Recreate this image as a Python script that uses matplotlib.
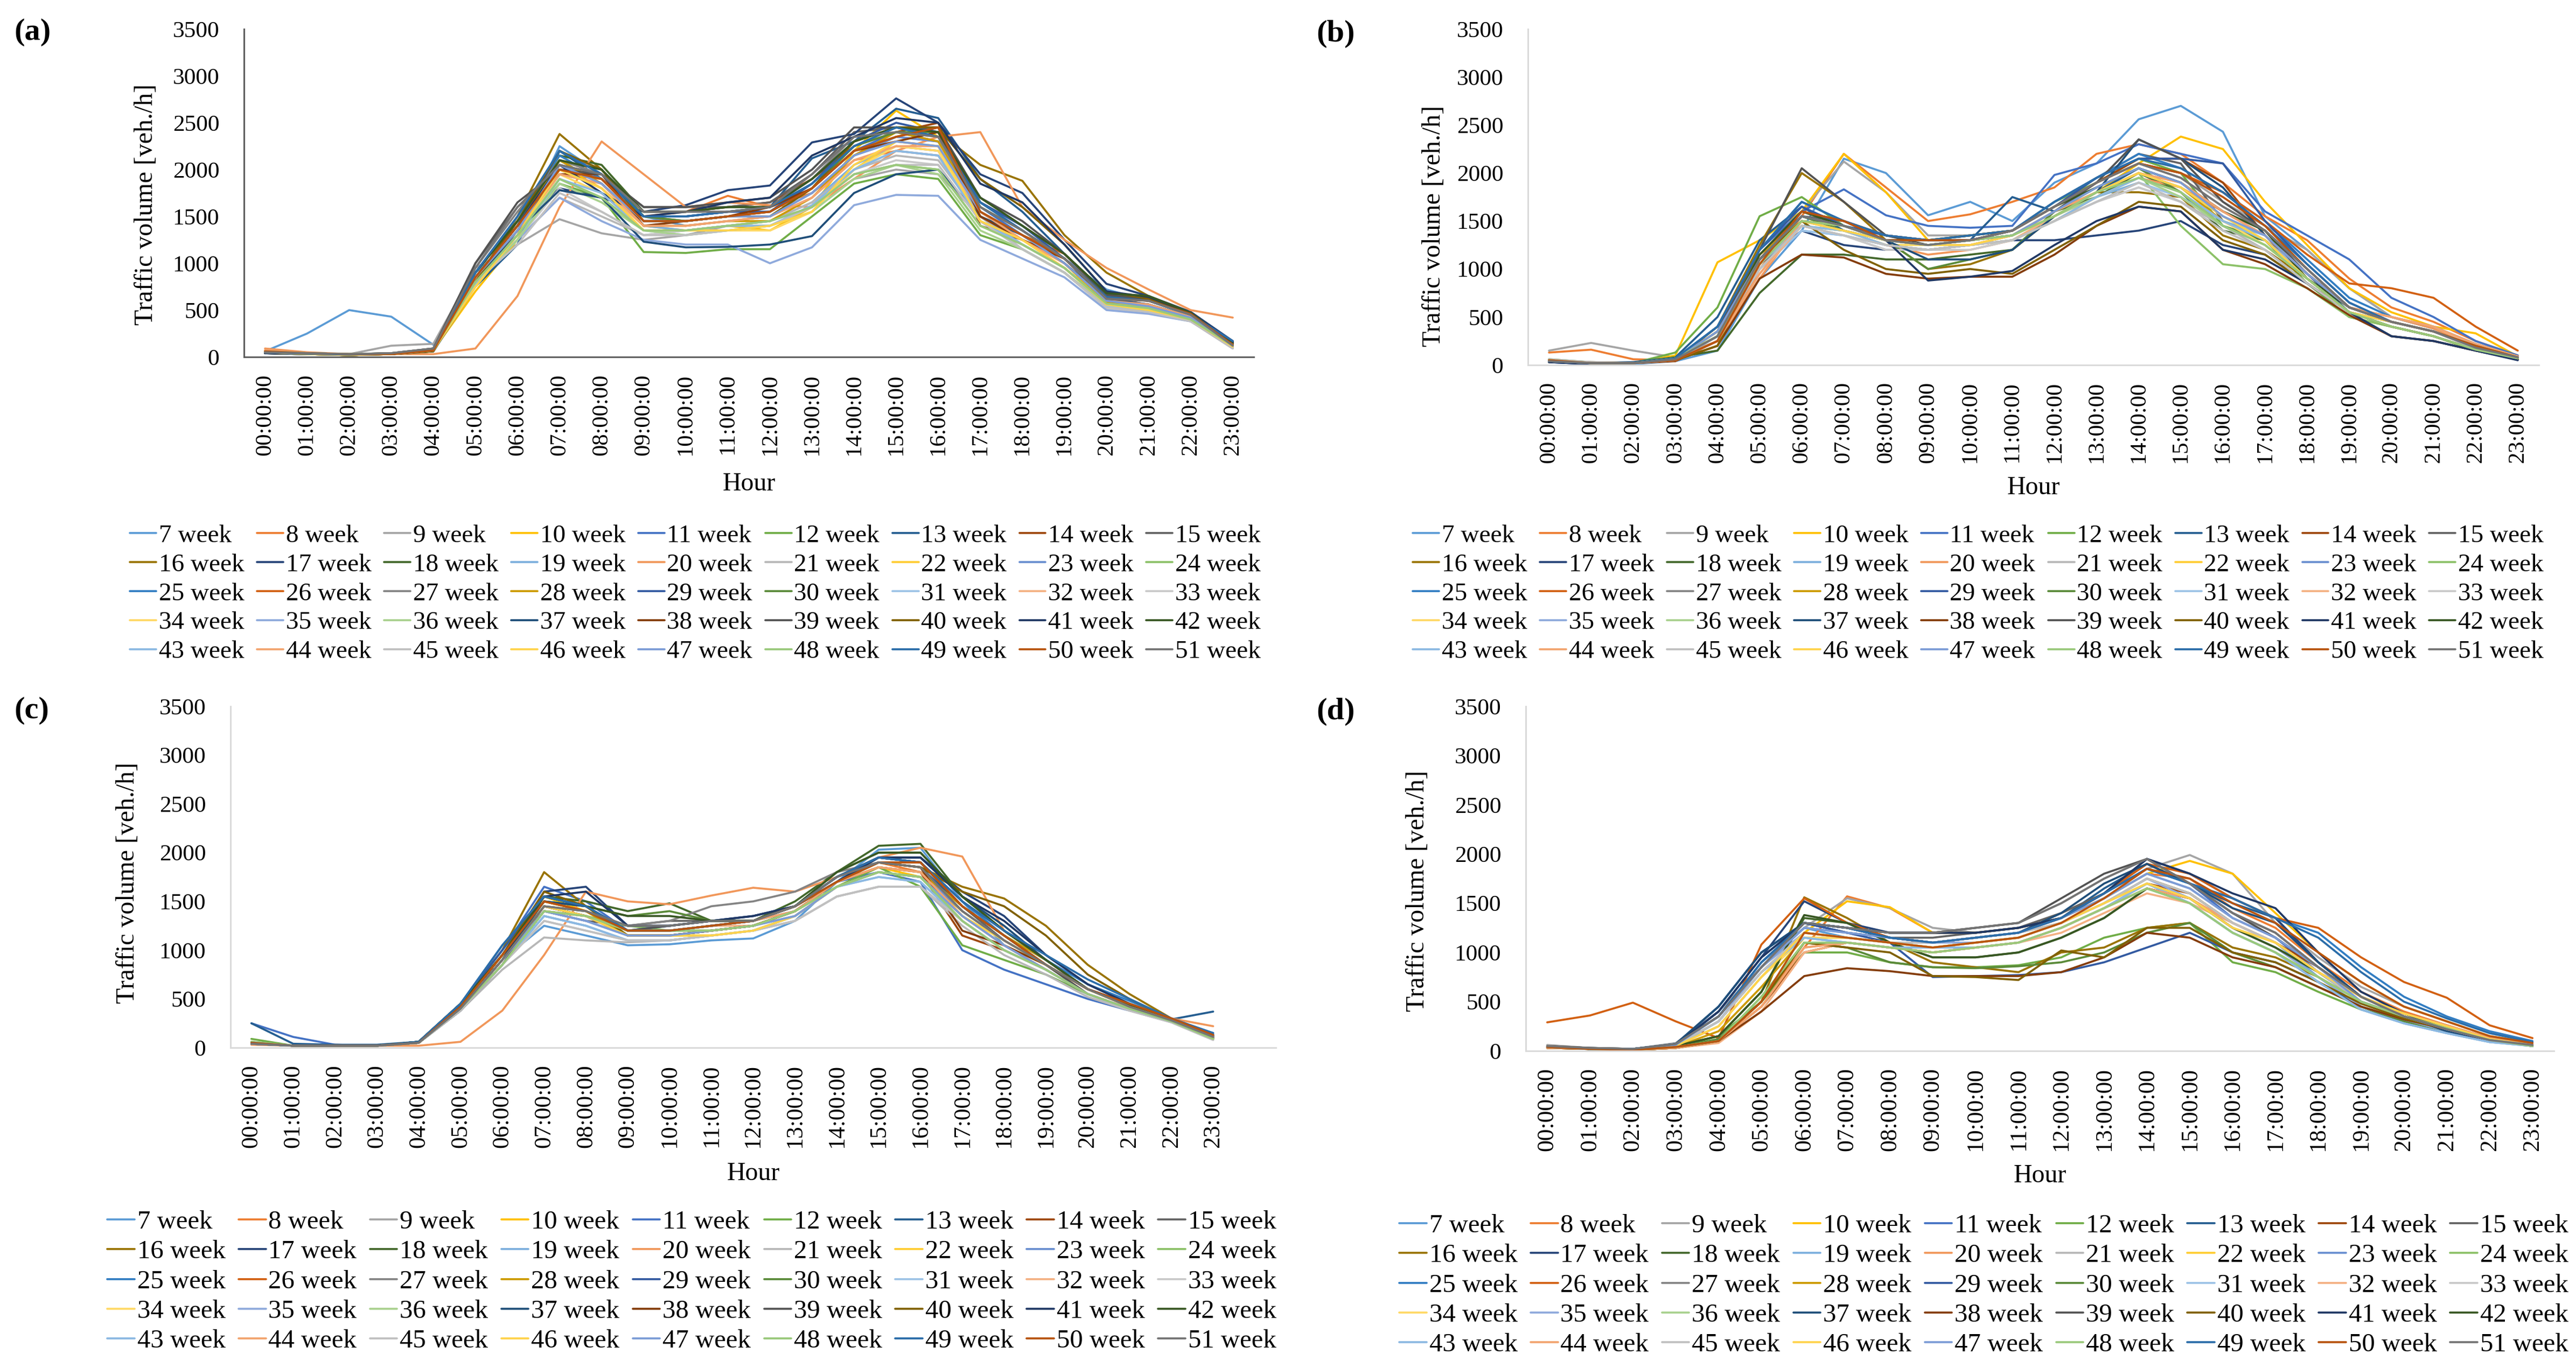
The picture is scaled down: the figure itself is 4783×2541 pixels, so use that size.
import colorsys
import matplotlib
matplotlib.use("Agg")
import matplotlib.pyplot as plt
from matplotlib.colors import to_rgb

plt.rcParams['font.family'] = ['Liberation Serif', 'DejaVu Serif']

W, H = 4783, 2541

hours = ["00:00:00", "01:00:00", "02:00:00", "03:00:00", "04:00:00", "05:00:00",
         "06:00:00", "07:00:00", "08:00:00", "09:00:00", "10:00:00", "11:00:00",
         "12:00:00", "13:00:00", "14:00:00", "15:00:00", "16:00:00", "17:00:00",
         "18:00:00", "19:00:00", "20:00:00", "21:00:00", "22:00:00", "23:00:00"]
week_numbers = list(range(7, 52))
week_labels = [f"{w} week" for w in week_numbers]

# hourly volumes [veh./h], one row per week (7..51)
vol_a = [
    [60, 250, 500, 430, 130, 900, 1300, 2250, 1950, 1500, 1400, 1450, 1500, 1750, 2150, 2350, 2300, 1650, 1350, 1050, 720, 600, 440, 150],
    [70, 40, 20, 30, 70, 800, 1350, 1950, 1900, 1500, 1550, 1720, 1600, 1750, 2100, 2200, 2150, 1550, 1250, 1000, 620, 560, 430, 130],
    [40, 30, 30, 120, 140, 950, 1200, 1470, 1320, 1250, 1300, 1400, 1450, 1600, 1900, 2000, 1950, 1500, 1200, 950, 580, 520, 400, 100],
    [50, 30, 20, 30, 70, 700, 1250, 2050, 1800, 1400, 1350, 1400, 1350, 1600, 2200, 2630, 2350, 1500, 1250, 1000, 560, 550, 420, 120],
    [50, 35, 25, 35, 80, 850, 1400, 2100, 1850, 1450, 1450, 1500, 1550, 1800, 2200, 2400, 2300, 1600, 1300, 1000, 620, 560, 430, 140],
    [60, 40, 30, 40, 80, 800, 1300, 1850, 1700, 1120, 1110, 1150, 1150, 1500, 1850, 1950, 1900, 1300, 1150, 900, 520, 480, 400, 120],
    [40, 30, 20, 30, 60, 750, 1200, 2200, 1900, 1500, 1500, 1550, 1600, 2120, 2300, 2650, 2550, 1900, 1550, 1100, 650, 600, 450, 160],
    [60, 40, 30, 30, 70, 900, 1450, 2050, 1950, 1550, 1550, 1600, 1650, 1900, 2250, 2400, 2500, 1400, 1250, 1050, 640, 600, 460, 130],
    [50, 40, 30, 40, 90, 1000, 1600, 2000, 1950, 1600, 1600, 1600, 1650, 1950, 2400, 2450, 2450, 1650, 1400, 1100, 680, 620, 450, 150],
    [40, 30, 20, 30, 60, 800, 1500, 2380, 2000, 1500, 1450, 1500, 1550, 1800, 2300, 2450, 2400, 2050, 1880, 1300, 900, 650, 480, 160],
    [40, 30, 20, 30, 70, 850, 1400, 1800, 1700, 1550, 1620, 1780, 1830, 2290, 2380, 2760, 2500, 1950, 1750, 1250, 780, 650, 480, 170],
    [50, 35, 25, 35, 80, 900, 1450, 2150, 2050, 1550, 1550, 1600, 1600, 1900, 2300, 2450, 2400, 1700, 1400, 1100, 680, 650, 470, 140],
    [60, 40, 25, 30, 70, 800, 1300, 1950, 1850, 1400, 1350, 1400, 1450, 1650, 2050, 2250, 2200, 1500, 1200, 950, 560, 520, 400, 120],
    [90, 50, 30, 30, 30, 90, 650, 1600, 2300, 1950, 1600, 1650, 1620, 1600, 1900, 2200, 2350, 2400, 1600, 1250, 950, 720, 500, 420],
    [50, 35, 25, 40, 80, 850, 1250, 1700, 1500, 1300, 1350, 1400, 1450, 1650, 2000, 2150, 2100, 1500, 1150, 900, 520, 480, 380, 90],
    [50, 30, 20, 30, 70, 750, 1300, 2000, 1800, 1350, 1350, 1350, 1350, 1550, 2000, 2300, 2250, 1450, 1250, 950, 560, 500, 400, 110],
    [50, 40, 30, 35, 80, 850, 1350, 2050, 1900, 1450, 1450, 1500, 1500, 1750, 2150, 2350, 2300, 1600, 1350, 1050, 600, 560, 430, 140],
    [60, 40, 30, 35, 80, 800, 1300, 1900, 1700, 1350, 1350, 1400, 1400, 1600, 1950, 2050, 2000, 1400, 1200, 950, 570, 520, 410, 120],
    [50, 35, 25, 35, 80, 900, 1500, 2150, 1900, 1500, 1500, 1550, 1550, 1850, 2250, 2450, 2350, 1650, 1350, 1050, 640, 600, 450, 150],
    [60, 40, 30, 30, 70, 850, 1400, 2000, 1900, 1450, 1450, 1500, 1550, 1800, 2200, 2350, 2450, 1550, 1300, 1100, 650, 620, 470, 140],
    [50, 40, 30, 40, 90, 950, 1550, 2100, 1950, 1550, 1550, 1550, 1600, 1900, 2350, 2400, 2350, 1600, 1350, 1050, 620, 600, 450, 130],
    [50, 30, 20, 30, 70, 800, 1350, 2100, 1850, 1400, 1400, 1450, 1450, 1700, 2150, 2400, 2300, 1550, 1300, 1000, 590, 560, 430, 130],
    [50, 35, 25, 35, 80, 850, 1400, 2200, 1950, 1500, 1500, 1550, 1550, 1850, 2300, 2500, 2400, 1650, 1400, 1050, 640, 600, 450, 150],
    [60, 40, 30, 35, 80, 900, 1450, 2100, 2000, 1500, 1450, 1500, 1500, 1800, 2250, 2400, 2400, 1600, 1350, 1050, 640, 650, 460, 140],
    [50, 35, 25, 35, 70, 800, 1250, 1900, 1700, 1350, 1300, 1350, 1400, 1600, 2000, 2200, 2150, 1450, 1150, 900, 540, 500, 400, 110],
    [60, 40, 30, 35, 80, 850, 1350, 2000, 1800, 1400, 1400, 1450, 1500, 1700, 2100, 2250, 2200, 1550, 1250, 1000, 600, 560, 430, 130],
    [50, 35, 25, 40, 80, 800, 1250, 1800, 1550, 1300, 1350, 1400, 1400, 1600, 1950, 2100, 2050, 1450, 1150, 900, 510, 470, 380, 100],
    [50, 30, 20, 30, 70, 750, 1300, 1950, 1750, 1350, 1350, 1350, 1350, 1550, 2000, 2250, 2200, 1450, 1200, 950, 560, 500, 400, 110],
    [60, 40, 30, 35, 80, 800, 1250, 1700, 1450, 1250, 1200, 1200, 1000, 1170, 1620, 1730, 1720, 1250, 1050, 850, 500, 460, 380, 110],
    [60, 40, 30, 35, 80, 800, 1250, 1850, 1650, 1350, 1300, 1350, 1400, 1550, 1900, 2050, 1950, 1350, 1150, 900, 560, 500, 400, 120],
    [40, 30, 20, 30, 60, 800, 1350, 1780, 1700, 1230, 1170, 1175, 1200, 1290, 1750, 1950, 2000, 1500, 1300, 1000, 620, 560, 430, 150],
    [60, 40, 30, 30, 70, 850, 1400, 1950, 1950, 1400, 1450, 1500, 1600, 1800, 2200, 2300, 2400, 1500, 1250, 1050, 620, 600, 460, 130],
    [50, 40, 30, 40, 90, 1000, 1650, 2000, 1950, 1600, 1600, 1650, 1700, 2000, 2450, 2450, 2450, 1700, 1450, 1100, 660, 620, 460, 140],
    [40, 30, 20, 30, 60, 800, 1450, 2200, 2000, 1450, 1450, 1500, 1500, 1800, 2300, 2450, 2450, 1900, 1600, 1200, 700, 620, 470, 150],
    [40, 30, 20, 30, 70, 850, 1400, 2050, 1750, 1500, 1550, 1650, 1700, 2150, 2350, 2550, 2500, 1850, 1650, 1200, 700, 640, 470, 160],
    [50, 35, 25, 35, 80, 900, 1450, 2100, 2000, 1550, 1550, 1600, 1600, 1900, 2300, 2450, 2400, 1700, 1400, 1100, 680, 650, 470, 140],
    [60, 40, 25, 30, 70, 780, 1300, 1900, 1750, 1350, 1350, 1400, 1400, 1620, 2000, 2200, 2150, 1450, 1200, 950, 560, 500, 400, 120],
    [70, 40, 30, 35, 80, 850, 1350, 1950, 1850, 1400, 1400, 1450, 1500, 1700, 2100, 2250, 2250, 1550, 1250, 1000, 600, 560, 430, 130],
    [50, 35, 25, 40, 80, 800, 1200, 1750, 1550, 1300, 1300, 1350, 1400, 1600, 1950, 2050, 2050, 1450, 1150, 900, 530, 480, 380, 90],
    [50, 30, 20, 30, 70, 750, 1300, 2000, 1800, 1350, 1350, 1350, 1400, 1550, 2050, 2300, 2250, 1450, 1250, 950, 560, 500, 400, 110],
    [50, 40, 30, 35, 80, 850, 1350, 2050, 1850, 1450, 1450, 1500, 1500, 1750, 2150, 2300, 2250, 1550, 1300, 1000, 600, 540, 420, 130],
    [60, 40, 30, 35, 80, 800, 1300, 1900, 1700, 1350, 1350, 1400, 1450, 1600, 1950, 2050, 2000, 1400, 1200, 950, 570, 520, 400, 120],
    [50, 35, 25, 35, 80, 900, 1500, 2200, 1950, 1500, 1500, 1550, 1600, 1850, 2250, 2450, 2350, 1650, 1350, 1050, 640, 600, 450, 170],
    [60, 40, 30, 30, 70, 850, 1400, 2000, 1900, 1450, 1450, 1500, 1550, 1800, 2200, 2350, 2450, 1550, 1300, 1050, 620, 600, 460, 130],
    [50, 40, 30, 40, 90, 950, 1600, 2050, 1950, 1550, 1550, 1550, 1600, 1950, 2350, 2400, 2350, 1600, 1350, 1050, 620, 600, 450, 120],
]

vol_b = [
    [30, 20, 10, 40, 150, 900, 1400, 2150, 2000, 1560, 1700, 1500, 1900, 2100, 2560, 2700, 2430, 1550, 1200, 800, 500, 380, 200, 80],
    [130, 160, 60, 50, 200, 1000, 1550, 2200, 1850, 1500, 1570, 1700, 1850, 2200, 2300, 2200, 1900, 1550, 1300, 900, 600, 450, 250, 100],
    [150, 230, 150, 80, 250, 1050, 1600, 2120, 1800, 1350, 1350, 1400, 1650, 1900, 2100, 2000, 1700, 1450, 1200, 800, 500, 380, 200, 70],
    [40, 20, 20, 100, 1070, 1300, 1600, 2200, 1800, 1300, 1300, 1350, 1600, 1800, 2100, 2380, 2250, 1700, 1250, 800, 550, 400, 330, 90],
    [30, 10, 20, 60, 350, 1200, 1600, 1830, 1560, 1450, 1430, 1450, 1980, 2100, 2300, 2200, 2100, 1600, 1350, 1100, 700, 500, 250, 100],
    [60, 30, 20, 130, 600, 1550, 1750, 1450, 1350, 1300, 1350, 1400, 1700, 1900, 2150, 2000, 1450, 1300, 850, 500, 400, 300, 150, 70],
    [40, 20, 30, 80, 500, 1300, 1650, 1400, 1300, 1250, 1300, 1750, 1600, 1800, 2050, 1900, 1600, 1400, 1000, 600, 450, 350, 200, 80],
    [50, 20, 20, 40, 250, 1100, 1600, 1500, 1350, 1300, 1300, 1400, 1650, 1900, 2150, 2150, 1900, 1350, 900, 550, 450, 350, 180, 90],
    [40, 20, 20, 60, 300, 1150, 1550, 1500, 1300, 1300, 1300, 1400, 1700, 1950, 2200, 2100, 1500, 1300, 900, 550, 450, 350, 180, 80],
    [30, 20, 20, 50, 400, 1250, 2000, 1700, 1300, 1000, 1050, 1200, 1550, 1800, 1800, 1750, 1350, 1200, 900, 550, 450, 350, 170, 70],
    [30, 10, 20, 50, 250, 1050, 1400, 1250, 1200, 1200, 1250, 1300, 1300, 1350, 1400, 1500, 1250, 1150, 850, 550, 400, 300, 160, 60],
    [50, 20, 20, 80, 150, 750, 1150, 1150, 1100, 1100, 1150, 1200, 1600, 1750, 2000, 1800, 1400, 1300, 900, 600, 450, 350, 180, 80],
    [40, 20, 20, 60, 300, 1000, 1400, 1350, 1250, 1200, 1250, 1300, 1550, 1750, 1900, 1750, 1500, 1350, 950, 600, 450, 350, 200, 80],
    [50, 30, 20, 60, 250, 900, 1500, 1400, 1250, 1150, 1200, 1300, 1500, 1750, 1950, 1850, 1600, 1350, 950, 600, 500, 380, 200, 90],
    [60, 30, 20, 50, 300, 1000, 1450, 1350, 1200, 1200, 1250, 1300, 1500, 1700, 1850, 1700, 1450, 1200, 850, 550, 450, 350, 170, 70],
    [40, 20, 20, 60, 350, 1000, 1450, 1400, 1250, 1250, 1250, 1300, 1550, 1800, 2000, 1850, 1550, 1300, 900, 550, 450, 350, 200, 80],
    [40, 20, 20, 60, 350, 1100, 1550, 1450, 1300, 1250, 1300, 1350, 1600, 1850, 2050, 1900, 1600, 1350, 950, 600, 450, 350, 180, 80],
    [50, 20, 20, 70, 300, 1050, 1500, 1450, 1300, 1250, 1300, 1350, 1600, 1800, 2000, 1450, 1050, 1000, 800, 500, 400, 300, 160, 70],
    [40, 20, 20, 70, 400, 1200, 1700, 1500, 1350, 1300, 1300, 1400, 1700, 1950, 2200, 2050, 1800, 1500, 1100, 700, 500, 400, 220, 90],
    [40, 20, 20, 50, 250, 1100, 1600, 1500, 1350, 1300, 1350, 1400, 1650, 1900, 2100, 2000, 1800, 1500, 1150, 850, 800, 700, 400, 150],
    [40, 20, 20, 60, 300, 1100, 1550, 1450, 1300, 1250, 1300, 1400, 1650, 1900, 2100, 1950, 1650, 1400, 1000, 600, 450, 350, 180, 80],
    [40, 20, 20, 60, 350, 1150, 1500, 1450, 1300, 1250, 1250, 1350, 1550, 1800, 2000, 1850, 1500, 1300, 950, 600, 450, 350, 190, 80],
    [40, 20, 20, 60, 400, 1200, 1650, 1450, 1350, 1300, 1300, 1400, 1650, 1950, 2150, 2150, 2100, 1500, 1050, 650, 450, 350, 200, 80],
    [50, 20, 20, 70, 300, 1100, 1550, 1400, 1300, 1000, 1100, 1200, 1600, 1850, 2050, 1800, 1450, 1300, 950, 600, 450, 350, 180, 70],
    [40, 20, 20, 60, 300, 1000, 1400, 1350, 1250, 1200, 1250, 1300, 1500, 1700, 1900, 1750, 1450, 1250, 900, 550, 450, 350, 180, 70],
    [50, 20, 20, 50, 250, 950, 1450, 1400, 1250, 1200, 1250, 1300, 1550, 1800, 2000, 1900, 1600, 1350, 950, 600, 500, 400, 200, 90],
    [50, 30, 20, 50, 300, 1000, 1450, 1350, 1200, 1200, 1200, 1300, 1500, 1700, 1850, 1700, 1400, 1200, 850, 550, 450, 350, 170, 70],
    [40, 20, 20, 60, 350, 1050, 1450, 1400, 1250, 1250, 1250, 1300, 1500, 1750, 1950, 1800, 1500, 1250, 900, 550, 450, 350, 200, 80],
    [40, 20, 20, 60, 350, 1100, 1500, 1400, 1300, 1250, 1300, 1350, 1550, 1800, 2000, 1850, 1550, 1300, 950, 600, 450, 350, 180, 80],
    [50, 20, 20, 70, 300, 1050, 1450, 1400, 1300, 1250, 1300, 1350, 1550, 1750, 1950, 1750, 1450, 1250, 900, 550, 400, 300, 160, 70],
    [40, 20, 20, 60, 300, 1100, 1550, 1450, 1300, 1100, 1100, 1200, 1550, 1800, 2350, 2150, 1850, 1350, 950, 550, 300, 250, 150, 60],
    [50, 20, 20, 50, 200, 900, 1150, 1120, 950, 900, 920, 920, 1150, 1450, 1650, 1600, 1200, 1050, 800, 520, 300, 250, 150, 60],
    [40, 20, 20, 60, 350, 1200, 2050, 1700, 1350, 1250, 1300, 1350, 1600, 1900, 2350, 2150, 1700, 1400, 950, 600, 450, 350, 180, 70],
    [40, 20, 20, 50, 200, 1100, 1500, 1200, 1000, 950, 1000, 950, 1200, 1450, 1700, 1650, 1300, 1150, 850, 550, 400, 300, 160, 60],
    [30, 10, 20, 50, 300, 1100, 1550, 1450, 1300, 880, 920, 980, 1250, 1500, 1650, 1600, 1200, 1100, 850, 550, 300, 250, 150, 50],
    [50, 20, 20, 60, 300, 1150, 1600, 1450, 1300, 1300, 1350, 1400, 1650, 1850, 2050, 1900, 1600, 1400, 900, 600, 450, 350, 180, 70],
    [40, 20, 20, 60, 300, 1050, 1450, 1400, 1250, 1200, 1250, 1300, 1500, 1750, 1950, 1800, 1500, 1300, 900, 550, 450, 350, 200, 80],
    [50, 20, 20, 50, 250, 950, 1500, 1450, 1300, 1250, 1250, 1350, 1600, 1800, 2000, 1900, 1600, 1350, 950, 600, 500, 400, 220, 90],
    [50, 30, 20, 50, 300, 1000, 1450, 1350, 1250, 1200, 1250, 1300, 1500, 1700, 1900, 1700, 1400, 1200, 850, 550, 450, 350, 170, 70],
    [40, 20, 20, 60, 350, 1050, 1500, 1400, 1300, 1250, 1250, 1350, 1550, 1800, 2000, 1850, 1550, 1300, 900, 550, 450, 350, 200, 80],
    [40, 20, 20, 60, 350, 1100, 1550, 1450, 1300, 1250, 1300, 1350, 1600, 1850, 2050, 1900, 1550, 1350, 950, 600, 450, 350, 180, 80],
    [50, 20, 20, 70, 300, 1050, 1500, 1450, 1300, 1250, 1300, 1350, 1550, 1800, 1950, 1800, 1450, 1250, 900, 550, 400, 300, 160, 70],
    [40, 20, 20, 70, 400, 1200, 1700, 1500, 1350, 1300, 1350, 1400, 1700, 1950, 2150, 2050, 1800, 1450, 1050, 650, 450, 350, 200, 80],
    [50, 20, 20, 50, 250, 1050, 1600, 1500, 1300, 1300, 1300, 1400, 1650, 1900, 2100, 2000, 1750, 1450, 1000, 600, 450, 350, 200, 80],
    [40, 20, 20, 60, 300, 1100, 1550, 1450, 1300, 1250, 1300, 1400, 1650, 1900, 2100, 1950, 1650, 1400, 1000, 600, 450, 350, 180, 80],
]

vol_c = [
    [50, 20, 20, 20, 50, 400, 900, 1250, 1150, 1050, 1060, 1100, 1120, 1300, 1700, 2030, 2050, 1500, 1050, 800, 550, 400, 280, 100],
    [60, 20, 30, 20, 50, 420, 950, 1500, 1400, 1200, 1200, 1250, 1300, 1450, 1700, 1900, 1800, 1400, 1100, 850, 600, 450, 300, 130],
    [40, 20, 20, 20, 50, 380, 850, 1400, 1300, 1150, 1150, 1200, 1250, 1400, 1700, 1850, 1800, 1350, 1050, 800, 550, 400, 270, 110],
    [50, 20, 20, 20, 50, 420, 900, 1550, 1400, 1150, 1150, 1150, 1200, 1350, 1650, 1850, 1750, 1400, 1100, 850, 600, 420, 280, 100],
    [250, 110, 30, 20, 60, 450, 1000, 1650, 1500, 1200, 1200, 1250, 1300, 1450, 1700, 1800, 1700, 1000, 800, 650, 500, 380, 280, 150],
    [90, 20, 20, 20, 50, 400, 900, 1450, 1400, 1200, 1200, 1200, 1250, 1400, 1650, 1850, 1650, 1050, 900, 750, 550, 400, 270, 90],
    [250, 40, 30, 30, 60, 420, 950, 1500, 1450, 1200, 1200, 1250, 1300, 1450, 1750, 1900, 1850, 1450, 1150, 850, 600, 420, 290, 370],
    [50, 20, 20, 20, 50, 400, 850, 1400, 1350, 1150, 1150, 1200, 1250, 1400, 1700, 1850, 1800, 1150, 1000, 800, 550, 400, 280, 130],
    [40, 20, 20, 20, 50, 380, 850, 1400, 1300, 1250, 1300, 1300, 1300, 1450, 1750, 1950, 1900, 1450, 1100, 850, 550, 400, 270, 110],
    [40, 20, 20, 20, 50, 450, 1000, 1800, 1450, 1150, 1150, 1200, 1250, 1400, 1700, 1900, 1850, 1650, 1530, 1250, 850, 550, 300, 110],
    [40, 20, 20, 20, 60, 420, 900, 1600, 1650, 1250, 1250, 1300, 1350, 1450, 1700, 1950, 1950, 1600, 1350, 950, 650, 450, 290, 120],
    [50, 20, 20, 20, 60, 450, 950, 1550, 1500, 1400, 1480, 1300, 1300, 1500, 1800, 2070, 2090, 1550, 1200, 900, 600, 430, 280, 100],
    [40, 20, 20, 20, 50, 400, 850, 1350, 1250, 1100, 1100, 1150, 1200, 1350, 1650, 1800, 1750, 1300, 1000, 800, 550, 400, 270, 100],
    [30, 20, 20, 20, 20, 60, 380, 950, 1600, 1500, 1470, 1560, 1640, 1600, 1750, 1950, 2050, 1960, 1200, 900, 600, 420, 300, 220],
    [40, 20, 20, 20, 50, 380, 800, 1130, 1100, 1080, 1100, 1150, 1200, 1300, 1550, 1650, 1650, 1250, 950, 750, 520, 380, 260, 80],
    [50, 20, 20, 20, 50, 400, 900, 1500, 1400, 1150, 1150, 1150, 1200, 1350, 1650, 1800, 1750, 1350, 1100, 850, 600, 420, 280, 100],
    [50, 20, 20, 20, 50, 400, 900, 1450, 1350, 1200, 1200, 1250, 1300, 1400, 1700, 1850, 1800, 1400, 1100, 850, 600, 420, 280, 120],
    [60, 20, 20, 20, 50, 400, 850, 1400, 1350, 1250, 1200, 1200, 1250, 1400, 1650, 1800, 1750, 1300, 1000, 800, 550, 400, 270, 90],
    [50, 20, 20, 20, 60, 450, 1050, 1550, 1450, 1200, 1200, 1250, 1300, 1450, 1750, 1950, 1900, 1500, 1150, 900, 650, 480, 300, 140],
    [50, 20, 20, 20, 50, 420, 950, 1500, 1400, 1200, 1200, 1250, 1300, 1450, 1700, 1900, 1900, 1450, 1150, 850, 600, 450, 300, 130],
    [40, 20, 20, 20, 50, 400, 900, 1450, 1400, 1250, 1300, 1450, 1500, 1600, 1800, 1900, 1850, 1400, 1100, 850, 600, 420, 280, 110],
    [40, 20, 20, 20, 50, 420, 950, 1500, 1400, 1150, 1150, 1200, 1250, 1400, 1700, 1850, 1800, 1450, 1150, 900, 600, 420, 280, 100],
    [50, 20, 20, 20, 60, 450, 1000, 1550, 1450, 1200, 1250, 1300, 1350, 1450, 1750, 1950, 1900, 1500, 1200, 900, 600, 450, 290, 130],
    [50, 20, 20, 20, 60, 420, 950, 1500, 1450, 1350, 1400, 1300, 1300, 1450, 1800, 2000, 2000, 1550, 1200, 900, 600, 430, 280, 100],
    [40, 20, 20, 20, 50, 380, 850, 1350, 1250, 1100, 1100, 1150, 1200, 1350, 1650, 1750, 1700, 1300, 1000, 800, 550, 400, 270, 100],
    [40, 20, 20, 20, 50, 400, 900, 1400, 1350, 1200, 1200, 1250, 1250, 1400, 1700, 1850, 1800, 1350, 1050, 800, 550, 400, 280, 110],
    [40, 20, 20, 20, 50, 380, 850, 1300, 1200, 1100, 1100, 1150, 1200, 1300, 1550, 1650, 1650, 1300, 1000, 800, 550, 380, 260, 80],
    [50, 20, 20, 20, 50, 400, 900, 1450, 1350, 1150, 1150, 1150, 1200, 1350, 1650, 1800, 1750, 1350, 1050, 850, 600, 420, 280, 100],
    [50, 20, 20, 20, 50, 400, 900, 1400, 1300, 1150, 1150, 1200, 1250, 1350, 1650, 1800, 1750, 1350, 1050, 800, 550, 400, 270, 110],
    [60, 20, 20, 20, 50, 400, 850, 1400, 1350, 1200, 1200, 1200, 1250, 1400, 1650, 1800, 1750, 1300, 1000, 800, 550, 400, 270, 90],
    [40, 20, 20, 20, 50, 400, 900, 1500, 1450, 1200, 1200, 1250, 1300, 1450, 1750, 1950, 1950, 1550, 1250, 900, 600, 450, 290, 120],
    [50, 20, 20, 20, 50, 400, 900, 1450, 1350, 1150, 1150, 1200, 1250, 1400, 1700, 1900, 1850, 1200, 1050, 850, 600, 430, 290, 110],
    [40, 20, 20, 20, 50, 380, 850, 1450, 1350, 1200, 1250, 1300, 1300, 1450, 1750, 1950, 1900, 1450, 1150, 850, 550, 400, 270, 100],
    [40, 20, 20, 20, 50, 430, 950, 1600, 1450, 1150, 1150, 1200, 1250, 1400, 1700, 1900, 1850, 1600, 1450, 1150, 750, 500, 290, 100],
    [40, 20, 20, 20, 60, 420, 900, 1550, 1600, 1250, 1250, 1300, 1350, 1450, 1700, 1950, 1950, 1550, 1300, 950, 650, 450, 290, 120],
    [50, 20, 20, 20, 60, 450, 950, 1550, 1450, 1350, 1350, 1300, 1300, 1450, 1800, 2000, 2000, 1550, 1200, 900, 600, 430, 280, 100],
    [40, 20, 20, 20, 50, 400, 850, 1350, 1250, 1100, 1100, 1150, 1200, 1350, 1650, 1750, 1700, 1300, 1000, 800, 550, 400, 270, 100],
    [50, 20, 20, 20, 50, 400, 900, 1400, 1350, 1200, 1200, 1250, 1300, 1400, 1700, 1850, 1800, 1350, 1050, 800, 550, 400, 280, 120],
    [40, 20, 20, 20, 50, 380, 850, 1300, 1200, 1100, 1100, 1150, 1200, 1300, 1550, 1650, 1650, 1300, 1000, 800, 550, 380, 260, 80],
    [50, 20, 20, 20, 50, 400, 900, 1450, 1350, 1150, 1150, 1150, 1200, 1350, 1650, 1800, 1750, 1350, 1100, 850, 600, 420, 280, 100],
    [50, 20, 20, 20, 50, 400, 900, 1400, 1300, 1150, 1150, 1200, 1250, 1350, 1650, 1800, 1750, 1350, 1050, 800, 550, 400, 270, 110],
    [60, 20, 20, 20, 50, 400, 850, 1400, 1350, 1200, 1200, 1200, 1250, 1400, 1650, 1800, 1750, 1300, 1000, 800, 550, 400, 270, 90],
    [50, 20, 20, 20, 60, 450, 1050, 1550, 1450, 1200, 1200, 1250, 1300, 1450, 1750, 1950, 1900, 1500, 1200, 950, 700, 500, 300, 150],
    [50, 20, 20, 20, 50, 420, 950, 1500, 1400, 1200, 1200, 1250, 1300, 1450, 1700, 1900, 1900, 1450, 1150, 850, 600, 450, 300, 130],
    [40, 20, 20, 20, 50, 400, 900, 1450, 1400, 1250, 1250, 1300, 1300, 1450, 1750, 1900, 1850, 1400, 1100, 850, 600, 420, 280, 110],
]

vol_d = [
    [40, 30, 20, 60, 350, 900, 1250, 1150, 1100, 1050, 1100, 1150, 1300, 1500, 1750, 1600, 1300, 1100, 750, 450, 300, 200, 100, 60],
    [30, 20, 10, 30, 100, 500, 1050, 1570, 1450, 1200, 1200, 1250, 1350, 1550, 1800, 1750, 1450, 1250, 900, 600, 400, 260, 130, 70],
    [60, 30, 20, 80, 400, 850, 1250, 1550, 1450, 1250, 1200, 1250, 1400, 1600, 1850, 1990, 1800, 1300, 950, 650, 450, 300, 150, 80],
    [40, 20, 10, 50, 300, 800, 1200, 1520, 1460, 1200, 1200, 1250, 1350, 1550, 1800, 1930, 1800, 1400, 1000, 700, 450, 300, 150, 80],
    [40, 20, 20, 60, 450, 1000, 1300, 1200, 1150, 1100, 1150, 1200, 1350, 1600, 1850, 1700, 1350, 1150, 800, 500, 350, 220, 100, 60],
    [30, 20, 10, 40, 150, 500, 1000, 1000, 900, 850, 850, 870, 950, 1150, 1250, 1300, 900, 800, 600, 420, 300, 200, 100, 50],
    [40, 20, 20, 70, 450, 1000, 1300, 1250, 1150, 1100, 1150, 1200, 1350, 1650, 1900, 1700, 1500, 1350, 900, 550, 350, 200, 100, 60],
    [30, 20, 10, 30, 100, 450, 1000, 1100, 1050, 1000, 1050, 1100, 1250, 1450, 1700, 1600, 1300, 1100, 850, 550, 380, 260, 120, 60],
    [50, 30, 20, 70, 350, 850, 1300, 1200, 1150, 1150, 1200, 1250, 1400, 1600, 1900, 1700, 1400, 1200, 850, 550, 350, 230, 110, 60],
    [30, 20, 10, 30, 100, 500, 1560, 1350, 1100, 900, 850, 800, 1000, 1050, 1250, 1300, 1050, 950, 750, 500, 350, 230, 110, 50],
    [40, 20, 20, 60, 400, 950, 1520, 1300, 1200, 1200, 1200, 1250, 1350, 1600, 1950, 1800, 1550, 1350, 900, 550, 350, 200, 100, 60],
    [40, 20, 10, 50, 150, 600, 1350, 1300, 1100, 950, 950, 1000, 1150, 1350, 1650, 1550, 1250, 1050, 800, 500, 350, 230, 110, 50],
    [40, 20, 20, 50, 300, 800, 1150, 1100, 1050, 1050, 1050, 1100, 1250, 1450, 1700, 1500, 1200, 1000, 700, 420, 280, 180, 90, 50],
    [30, 20, 10, 30, 100, 450, 1050, 1100, 1050, 1000, 1050, 1100, 1250, 1450, 1650, 1550, 1300, 1100, 800, 550, 380, 260, 130, 70],
    [50, 20, 20, 60, 300, 800, 1200, 1150, 1100, 1100, 1150, 1200, 1300, 1500, 1750, 1600, 1300, 1100, 800, 500, 350, 220, 110, 60],
    [40, 20, 10, 50, 250, 750, 1200, 1150, 1100, 1050, 1100, 1150, 1300, 1500, 1700, 1550, 1250, 1100, 800, 550, 380, 250, 120, 60],
    [40, 20, 20, 60, 350, 850, 1250, 1200, 1150, 1100, 1150, 1200, 1350, 1550, 1800, 1650, 1350, 1150, 850, 500, 350, 220, 110, 60],
    [40, 20, 10, 40, 100, 550, 1100, 1100, 1050, 1000, 1050, 1100, 1250, 1450, 1650, 1500, 1200, 1000, 750, 500, 350, 230, 110, 50],
    [40, 20, 20, 70, 350, 900, 1300, 1250, 1150, 1100, 1150, 1200, 1350, 1600, 1850, 1700, 1550, 1350, 1200, 850, 550, 350, 200, 100],
    [290, 360, 490, 300, 130, 1080, 1550, 1300, 1150, 1100, 1150, 1200, 1350, 1600, 1900, 1800, 1550, 1350, 1250, 950, 700, 540, 260, 130],
    [50, 30, 20, 70, 350, 850, 1300, 1250, 1200, 1200, 1250, 1300, 1500, 1750, 1950, 1700, 1400, 1200, 850, 550, 350, 220, 110, 60],
    [40, 20, 10, 40, 200, 650, 1150, 1150, 1100, 1050, 1100, 1150, 1300, 1500, 1750, 1600, 1300, 1100, 800, 550, 380, 250, 120, 60],
    [40, 20, 20, 60, 400, 950, 1300, 1200, 1100, 750, 760, 770, 800, 900, 1050, 1200, 1000, 900, 700, 450, 300, 200, 100, 50],
    [40, 20, 10, 40, 120, 500, 1100, 1050, 900, 850, 840, 860, 900, 1000, 1200, 1300, 1000, 850, 650, 450, 300, 200, 100, 50],
    [40, 20, 20, 50, 250, 750, 1150, 1100, 1050, 1050, 1050, 1100, 1250, 1450, 1700, 1500, 1200, 1000, 700, 420, 280, 180, 90, 50],
    [30, 20, 10, 30, 80, 400, 1000, 1100, 1050, 1000, 1050, 1100, 1200, 1400, 1600, 1500, 1300, 1100, 800, 550, 380, 250, 120, 70],
    [50, 20, 20, 60, 300, 800, 1200, 1150, 1100, 1100, 1150, 1200, 1300, 1500, 1700, 1550, 1300, 1100, 800, 500, 350, 220, 110, 60],
    [40, 20, 10, 50, 250, 750, 1150, 1150, 1100, 1050, 1100, 1150, 1300, 1500, 1700, 1550, 1250, 1100, 800, 550, 380, 250, 120, 60],
    [40, 20, 20, 60, 300, 850, 1200, 1150, 1100, 1100, 1100, 1150, 1300, 1500, 1750, 1550, 1250, 1050, 750, 450, 320, 200, 100, 50],
    [40, 20, 10, 40, 100, 550, 1100, 1100, 1050, 1000, 1050, 1100, 1250, 1450, 1650, 1500, 1200, 1000, 750, 500, 350, 230, 110, 50],
    [40, 20, 20, 70, 450, 1000, 1300, 1250, 1150, 1100, 1150, 1200, 1400, 1700, 1900, 1700, 1450, 1300, 900, 550, 350, 200, 100, 60],
    [30, 20, 10, 30, 100, 400, 760, 840, 810, 760, 760, 760, 800, 950, 1200, 1150, 950, 850, 650, 450, 320, 220, 110, 50],
    [50, 30, 20, 70, 350, 850, 1300, 1250, 1200, 1200, 1250, 1300, 1550, 1800, 1950, 1700, 1400, 1150, 850, 550, 350, 220, 110, 60],
    [30, 20, 10, 30, 100, 500, 1100, 1050, 1000, 760, 750, 720, 1020, 950, 1250, 1250, 1000, 900, 700, 480, 330, 220, 110, 50],
    [40, 20, 20, 60, 400, 950, 1300, 1250, 1200, 1200, 1200, 1250, 1350, 1600, 1950, 1800, 1600, 1450, 1000, 600, 380, 220, 100, 60],
    [40, 20, 10, 50, 150, 600, 1380, 1300, 1100, 950, 950, 1000, 1150, 1350, 1650, 1550, 1250, 1050, 800, 500, 350, 230, 110, 50],
    [40, 20, 20, 50, 300, 800, 1150, 1100, 1050, 1050, 1050, 1100, 1250, 1450, 1700, 1500, 1200, 1000, 700, 420, 280, 180, 90, 50],
    [30, 20, 10, 30, 100, 450, 1050, 1100, 1050, 1000, 1050, 1100, 1250, 1450, 1650, 1550, 1300, 1100, 800, 550, 380, 260, 130, 70],
    [50, 20, 20, 60, 300, 800, 1200, 1150, 1100, 1100, 1150, 1200, 1300, 1500, 1750, 1600, 1300, 1100, 800, 500, 350, 220, 110, 60],
    [40, 20, 10, 50, 250, 750, 1200, 1150, 1100, 1050, 1100, 1150, 1300, 1500, 1700, 1550, 1250, 1100, 800, 550, 380, 250, 120, 60],
    [40, 20, 20, 60, 350, 850, 1250, 1200, 1150, 1100, 1150, 1200, 1350, 1550, 1800, 1650, 1350, 1150, 850, 500, 350, 220, 110, 60],
    [40, 20, 10, 40, 100, 550, 1100, 1100, 1050, 1000, 1050, 1100, 1250, 1450, 1650, 1500, 1200, 1000, 750, 500, 350, 230, 110, 50],
    [40, 20, 20, 70, 350, 900, 1300, 1250, 1150, 1100, 1150, 1200, 1350, 1600, 1850, 1700, 1550, 1350, 1150, 800, 500, 330, 180, 90],
    [40, 20, 10, 40, 100, 500, 1200, 1150, 1100, 1050, 1100, 1150, 1300, 1550, 1850, 1750, 1500, 1300, 1000, 700, 450, 300, 150, 80],
    [50, 30, 20, 70, 350, 850, 1300, 1250, 1200, 1200, 1250, 1300, 1500, 1750, 1950, 1700, 1400, 1200, 850, 550, 350, 220, 110, 60],
]

# Excel office theme accents and their tint/shade cycle
accents = ["#5B9BD5", "#ED7D31", "#A5A5A5", "#FFC000", "#4472C4", "#70AD47"]
lum_steps = [(1.0, 0.0), (0.6, 0.0), (0.8, 0.2), (0.8, 0.0), (0.6, 0.4),
             (0.5, 0.0), (0.7, 0.3), (0.7, 0.0), (0.5, 0.5)]


def series_color(i):
    r, g, b = to_rgb(accents[i % 6])
    hh, ll, ss = colorsys.rgb_to_hls(r, g, b)
    mod, off = lum_steps[i // 6]
    ll = min(1.0, ll * mod + off)
    return colorsys.hls_to_rgb(hh, ll, ss)


colors = [series_color(i) for i in range(len(week_numbers))]

# pixel geometry of each panel: axes box, labels, legend anchor
panels = [
    dict(data=vol_a, tag="(a)", box=(453, 54, 2328, 663), spine="#595959", xmax=23.5,
         tag_xy=(60, 60), ylab_xy=(271, 380), hour_y=899, leg_xy=(241, 974), fs=11.3, tfs=10.2),
    dict(data=vol_b, tag="(b)", box=(2837, 54, 4714, 678), spine="#D9D9D9", xmax=23.5,
         tag_xy=(2480, 63), ylab_xy=(2662, 420), hour_y=906, leg_xy=(2623, 974), fs=11.3, tfs=10.2),
    dict(data=vol_c, tag="(c)", box=(428, 1312, 2369, 1946), spine="#D9D9D9", xmax=24.5,
         tag_xy=(59, 1320), ylab_xy=(237, 1640), hour_y=2180, leg_xy=(199, 2248), fs=11.7, tfs=10.5),
    dict(data=vol_d, tag="(d)", box=(2833, 1312, 4742, 1952), spine="#D9D9D9", xmax=23.5,
         tag_xy=(2480, 1322), ylab_xy=(2632, 1655), hour_y=2184, leg_xy=(2598, 2255), fs=11.7, tfs=10.5),
]

fig = plt.figure(figsize=(W / 300, H / 300), dpi=300)

# legend filled row by row like Excel (matplotlib fills column by column)
nrow, ncol = 5, 9
order = [r * ncol + c for c in range(ncol) for r in range(nrow)]

for p in panels:
    x0, y0, x1, y1 = p["box"]
    ax = fig.add_axes([x0 / W, 1 - y1 / H, (x1 - x0) / W, (y1 - y0) / H])
    xs = list(range(len(hours)))
    for i, row in enumerate(p["data"]):
        ax.plot(xs, row, color=colors[i], lw=0.9, solid_joinstyle="round",
                solid_capstyle="round", label=week_labels[i])
    ax.set_xlim(-0.5, p["xmax"])
    ax.set_ylim(0, 3500)
    ax.set_yticks(range(0, 3501, 500))
    ax.set_xticks(xs)
    ax.set_xticklabels(hours, rotation=90, fontsize=p["tfs"])
    ax.tick_params(axis="y", length=0, pad=11, labelsize=10.4)
    ax.tick_params(axis="x", length=0, pad=7.5)
    for s in ("top", "right"):
        ax.spines[s].set_visible(False)
    for s in ("left", "bottom"):
        ax.spines[s].set_color(p["spine"])
        ax.spines[s].set_linewidth(0.7)

    fig.text(p["ylab_xy"][0] / W, 1 - p["ylab_xy"][1] / H, "Traffic volume [veh./h]",
             rotation=90, ha="center", va="center", fontsize=11.5)
    fig.text(((x0 + x1) / 2) / W, 1 - p["hour_y"] / H, "Hour",
             ha="center", va="center", fontsize=11.5)
    fig.text(p["tag_xy"][0] / W, 1 - p["tag_xy"][1] / H, p["tag"],
             ha="center", va="center", fontsize=14, fontweight="bold")

    handles = ax.get_lines()
    fig.legend([handles[k] for k in order], [week_labels[k] for k in order],
               ncol=ncol, loc="upper left",
               bbox_to_anchor=(p["leg_xy"][0] / W, 1 - p["leg_xy"][1] / H),
               frameon=False, fontsize=p["fs"], handlelength=1.04, handletextpad=0.1,
               columnspacing=0.5, labelspacing=0.23, borderpad=0, borderaxespad=0)

fig.savefig("out.png", dpi=300)
